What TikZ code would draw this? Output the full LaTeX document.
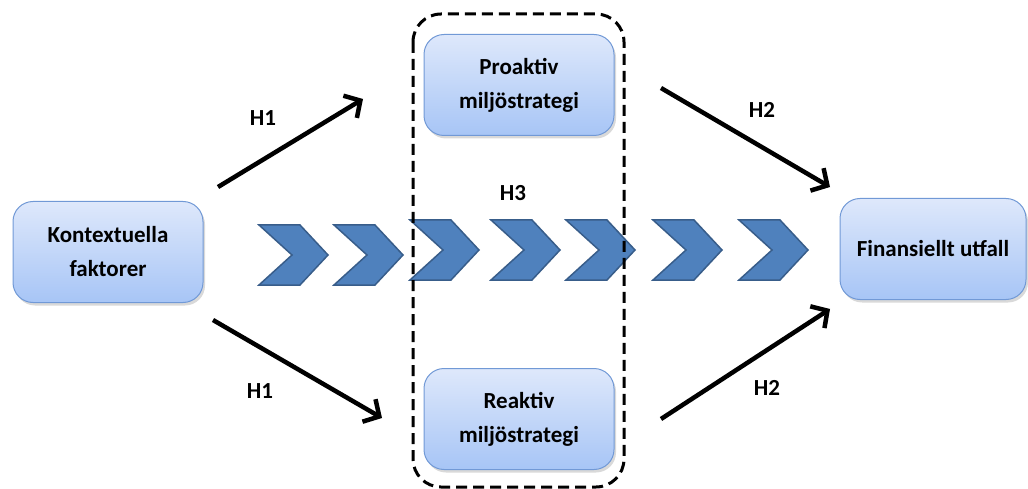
\documentclass[tikz,border=0pt]{standalone}
\usepackage{fontspec}
\setmainfont{Carlito}
\usepackage{tikz}
\usetikzlibrary{arrows.meta,positioning}
\usetikzlibrary{shadows}
\tikzset{>=latex}
\definecolor{box-top}{HTML}{DEE8FB}
\definecolor{box-bottom}{HTML}{A7C5F6}
\definecolor{box-line}{HTML}{7199D6}
\definecolor{chev-fill}{HTML}{4F81BD}
\definecolor{chev-line}{HTML}{385D8A}

\begin{document}
\begin{tikzpicture}[x=1pt, y=-1pt,
                every node/.append style={align=center, font=\fontsize{23}{34}\selectfont\bfseries},
                box/.style={draw=box-line, line width=1pt, rounded corners=20pt,
                            top color=box-top, bottom color=box-bottom,
                            minimum width=190pt, minimum height=101pt,
                            drop shadow={opacity=0.3, shadow xshift=2pt, shadow yshift=-3pt}},
                chev/.style={fill=chev-fill, draw=chev-line, line width=1.5pt, line join=miter},
                hyp/.style={->, line width=4.5pt, >={Straight Barb[length=12pt, width=26pt]}}]
   \useasboundingbox (0,0) rectangle (1028,489);

   % boxes
   \node [box] (K) at (108,252) {Kontextuella\\faktorer};
   \node [box] (P) at (519,85)  {Proaktiv\\miljöstrategi};
   \node [box, below=232pt of P] (R) {Reaktiv\\miljöstrategi};
   \node [box, minimum width=186pt] (F) at (933,249) {Finansiellt utfall};

   % chevrons (H3)
   \foreach \x/\y in {259/225, 334/225, 410/220, 491/220, 566/220, 653/220, 739/220}
      \draw [chev] (\x,\y) -- ++(41,0) -- ++(28,30) -- ++(-28,30) -- ++(-41,0) -- ++(33,-30) -- cycle;

   % dashed frame round the two strategies
   \draw [line width=3pt, dash pattern=on 11pt off 6pt, rounded corners=28pt]
         (413,14) rectangle (624,487);

   % arrow ends
   \coordinate (k-up)   at (218,187);
   \coordinate (p-in)   at (363,99);
   \coordinate (k-down) at (213,320);
   \coordinate (r-in)   at (382,418);
   \coordinate (p-out)  at (661,88);
   \coordinate (f-up)   at (830,187);
   \coordinate (r-out)  at (661,419);
   \coordinate (f-down) at (830,309);

   \draw [hyp] (k-up) -- (p-in);
   \draw [hyp] (k-down) -- (r-in);
   \draw [hyp] (p-out) -- (f-up);
   \draw [hyp] (r-out) -- (f-down);

   % labels
   \node (h1a) at (263,118) {H1};
   \node (h1b) at (260,391) {H1};
   \node (h2a) at (762,110) {H2};
   \node (h2b) at (767,388) {H2};
   \node (h3)  at (513,193) {H3};
\end{tikzpicture}
\end{document}
